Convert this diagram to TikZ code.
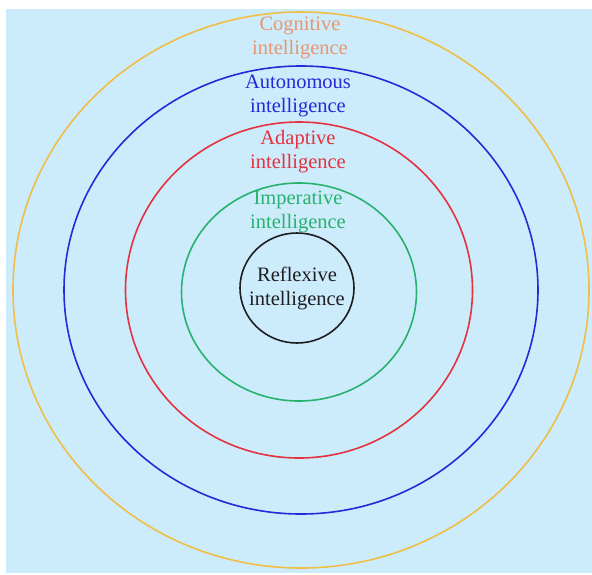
\documentclass[tikz,border=0pt]{standalone}
\usepackage{fontspec}
\setmainfont{Liberation Serif}
\usetikzlibrary{shapes.geometric}

\definecolor{skyback}{RGB}{204,236,252}
\definecolor{cogring}{RGB}{240,190,70}
\definecolor{cogtext}{RGB}{232,150,110}
\definecolor{autoring}{RGB}{40,40,215}
\definecolor{adaring}{RGB}{228,50,62}
\definecolor{impring}{RGB}{40,178,110}
\definecolor{refring}{RGB}{30,30,35}

\begin{document}
\begin{tikzpicture}[x=1pt,y=-1pt,
  ring/.style={ellipse,draw,line width=1.6pt,inner sep=0pt},
  lbl/.style={align=center,font=\fontsize{20.5}{24}\selectfont}]

% define the background
  \useasboundingbox (0,0) rectangle (592,574);
  \fill[skyback] (6,9) rectangle (592,573);

% define the rings
  \node[ring, draw=cogring, minimum width=576pt, minimum height=556pt]  (cognitive)  at (301,290) {};
  \node[ring, draw=autoring, minimum width=474pt, minimum height=448pt] (autonomous) at (301,290) {};
  \node[ring, draw=adaring, minimum width=347pt, minimum height=336pt]  (adaptive)   at (299,290) {};
  \node[ring, draw=impring, minimum width=235pt, minimum height=218pt]  (imperative) at (299,292) {};
  \node[ring, draw=refring, minimum width=114pt, minimum height=110pt]  (reflexive)  at (297,288) {};

% define the labels
  \node[lbl, text=cogtext]  (cognitive text)  at (300,38)  {Cognitive\\intelligence};
  \node[lbl, text=autoring] (autonomous text) at (298,96)  {Autonomous\\intelligence};
  \node[lbl, text=adaring]  (adaptive text)   at (298,152) {Adaptive\\intelligence};
  \node[lbl, text=impring]  (imperative text) at (298,212) {Imperative\\intelligence};
  \node[lbl, text=refring]  (reflexive text)  at (reflexive) {Reflexive\\intelligence};

\end{tikzpicture}
\end{document}
